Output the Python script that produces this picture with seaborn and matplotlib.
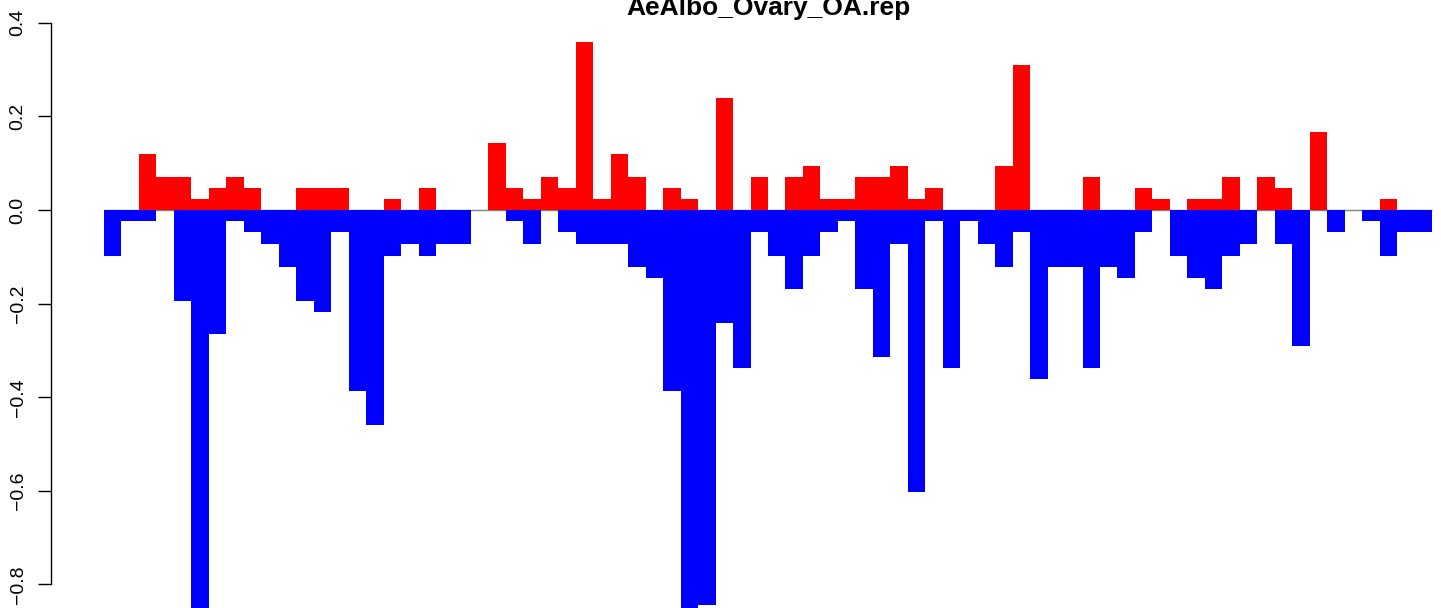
import matplotlib
matplotlib.use("Agg")
import matplotlib.pyplot as plt
import pandas
import seaborn as sns

title = "AeAlbo_Ovary_OA.rep"

positions = list(range(76))

# red (above zero) and blue (below zero) part of each position
up_values = [
    0, 0, 0.12, 0.071, 0.071, 0.024, 0.048, 0.071, 0.048, 0,
    0, 0.048, 0.048, 0.048, 0, 0, 0.024, 0, 0.048, 0,
    0, 0, 0.143, 0.048, 0.024, 0.071, 0.048, 0.36, 0.024, 0.12,
    0.071, 0, 0.048, 0.024, 0, 0.24, 0, 0.071, 0, 0.071,
    0.095, 0.024, 0.024, 0.071, 0.071, 0.095, 0.024, 0.048, 0, 0,
    0, 0.095, 0.31, 0, 0, 0, 0.071, 0, 0, 0.048,
    0.024, 0, 0.024, 0.024, 0.071, 0, 0.071, 0.048, 0, 0.167,
    0, 0, 0, 0.024, 0, 0,
]
down_values = [
    -0.098, -0.024, -0.024, 0, -0.194, -0.88, -0.264, -0.024, -0.048, -0.072,
    -0.121, -0.194, -0.217, -0.048, -0.386, -0.459, -0.098, -0.072, -0.098, -0.072,
    -0.072, 0, 0, -0.024, -0.072, 0, -0.048, -0.072, -0.072, -0.072,
    -0.121, -0.145, -0.386, -0.88, -0.843, -0.241, -0.338, -0.048, -0.098, -0.168,
    -0.098, -0.048, -0.024, -0.168, -0.314, -0.072, -0.603, -0.024, -0.338, -0.024,
    -0.072, -0.121, -0.048, -0.361, -0.121, -0.121, -0.338, -0.121, -0.145, -0.048,
    0, -0.098, -0.145, -0.168, -0.098, -0.072, 0, -0.072, -0.291, 0,
    -0.048, 0, -0.024, -0.098, -0.048, -0.048,
]

ytick_values = [-0.8, -0.6, -0.4, -0.2, 0.0, 0.2, 0.4]

sns.set_style("white")
plt.rcParams["font.family"] = ["Liberation Sans", "DejaVu Sans"]
plt.rcParams["text.color"] = "black"
plt.rcParams["ytick.color"] = "black"
plt.rcParams["ytick.labelcolor"] = "black"

df = pandas.DataFrame({"position": positions, "up": up_values, "down": down_values})

fig = plt.figure(figsize=(14.41, 6.08), dpi=100)
ax = fig.add_axes([50.7 / 1441, 0, 1 - 50.7 / 1441, 1])

# zero line under the bars
ax.hlines(0, -0.5, len(positions) - 0.5, color="#808080", lw=1, zorder=1)

sns.barplot(data=df, x="position", y="up", color="#FF0000", saturation=1,
            width=1, linewidth=0, errorbar=None, antialiased=False, zorder=2, ax=ax)
sns.barplot(data=df, x="position", y="down", color="#0000FF", saturation=1,
            width=1, linewidth=0, errorbar=None, antialiased=False, zorder=2, ax=ax)

ax.set_xlim(-3.55, 76.015)
ax.set_ylim(-0.8504, 0.4487)
ax.set_xticks([])
ax.set_xlabel("")
ax.set_ylabel("")

for side in ["top", "right", "bottom"]:
    ax.spines[side].set_visible(False)
ax.spines["left"].set_bounds(-0.8, 0.4)
ax.spines["left"].set_color("black")
ax.spines["left"].set_linewidth(1)

ax.set_yticks(ytick_values)
ax.set_yticklabels([f"{v:.1f}".replace("-", "\u2212") for v in ytick_values],
                   rotation=90, va="center", color="black")
ax.tick_params(axis="y", left=True, length=9.4, width=1, pad=8,
               labelsize=14, color="black", labelcolor="black", direction="out")

fig.text(768 / 1441, 1 - 14.5 / 608, title, ha="center", va="baseline",
         fontsize=19, fontweight="bold", color="black")

fig.savefig("out.png", dpi=100)
plt.close()
